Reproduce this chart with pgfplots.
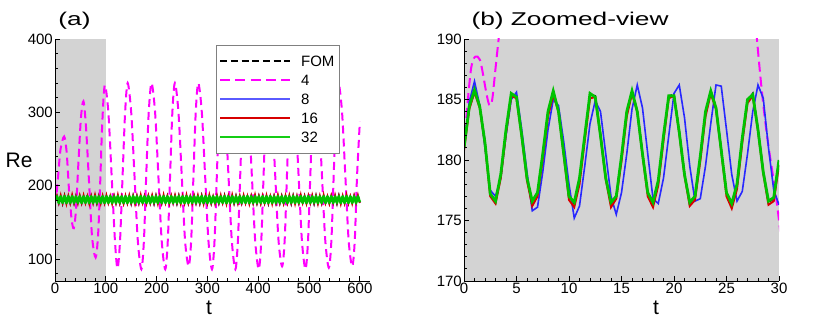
\documentclass[border=0pt]{standalone}
\usepackage{fontspec}
\setmainfont{Liberation Sans}
\newfontfamily\titlefont[FakeStretch=1.42]{Liberation Sans}
\usepackage{pgfplots}
\pgfplotsset{compat=1.18}
\usepackage{pgfplotstable}
\definecolor{bggray}{RGB}{211,211,211}
\definecolor{cblue}{RGB}{40,40,255}
\definecolor{cred}{RGB}{215,0,0}
\definecolor{cgreen}{RGB}{0,195,0}
\definecolor{cmag}{RGB}{255,0,255}
\definecolor{lgdgray}{RGB}{128,128,128}
\definecolor{lgblue}{RGB}{90,90,255}
\definecolor{lggreen}{RGB}{20,205,20}

\pgfplotstableread{
t v
0 181
0.7 187.7
1.5 188.3
2.5 184.5
3.3 190
7 220
11 250
18 267
23 245
27.9 190
30 175
33 152
37 142
41 165
46 230
51 292
56 315
61 280
67 205
73 130
80 102
85 135
89 205
93 285
98 337
105 300
111.5 213
118 125
123 87
128 125
133 213
138 300
143 340
150 300
156.5 213
163 125
170 86
175 125
179.5 213
184.5 300
190 340
197 300
203.5 213
210 125
217 86
222 125
226.5 213
231 300
236 340
243 300
249.5 213
256 125
263 90
268 125
272.5 213
277 300
282 340
289 300
295.5 213
302 125
309 86
314 125
318.5 213
323 300
328 340
335 300
341.5 213
348 125
355 86
360 125
364.5 213
369 300
374 340
381 300
387.5 213
394 125
401 86
406 125
410.5 213
415 300
420 340
427 300
433.5 213
440 125
447 90
452 125
456.5 213
461 300
466 340
473 300
479.5 213
486 125
493 86
498 125
502.5 213
507 300
512 340
519 300
525.5 213
532 125
539 88
544 125
548.5 213
553 300
558 340
565 300
571.5 213
578 125
585 90
590 125
594.5 213
600 287
}\magdata

\pgfplotstableread{
t fom b8 r16 g32
0 181.0 181.0 180.8 181.0
3.75 186.4 186.0 186.8 185.6
7.5 176.2 175.4 176.0 176.4
11.25 185.9 186.3 187.4 185.4
15 174.9 175.8 176.1 176.6
18.75 187.2 185.5 186.1 185.8
22.5 176.0 176.5 174.7 176.3
26.25 186.1 186.2 186.5 185.5
30 176.3 175.3 175.7 176.4
33.75 185.8 186.4 188.0 185.7
37.5 175.3 176.2 176.1 176.5
41.25 186.6 185.7 185.9 185.4
45 175.6 176.0 175.2 176.5
48.75 186.4 186.0 186.8 185.6
52.5 176.2 175.4 176.0 176.4
56.25 185.9 186.3 187.4 185.4
60 174.9 175.8 176.1 176.6
63.75 187.2 185.5 186.1 185.8
67.5 176.0 176.5 174.7 176.3
71.25 186.1 186.2 186.5 185.5
75 176.3 175.3 175.7 176.4
78.75 185.8 186.4 188.0 185.7
82.5 175.3 176.2 176.1 176.5
86.25 186.6 185.7 185.9 185.4
90 175.6 176.0 175.2 176.5
93.75 186.4 186.0 186.8 185.6
97.5 176.2 175.4 176.0 176.4
101.25 185.9 186.3 187.4 185.4
105 174.9 175.8 176.1 176.6
108.75 187.2 185.5 186.1 185.8
112.5 176.0 176.5 174.7 176.3
116.25 186.1 186.2 186.5 185.5
120 176.3 175.3 175.7 176.4
123.75 185.8 186.4 188.0 185.7
127.5 175.3 176.2 176.1 176.5
131.25 186.6 185.7 185.9 185.4
135 175.6 176.0 175.2 176.5
138.75 186.4 186.0 186.8 185.6
142.5 176.2 175.4 176.0 176.4
146.25 185.9 186.3 187.4 185.4
150 174.9 175.8 176.1 176.6
153.75 187.2 185.5 186.1 185.8
157.5 176.0 176.5 174.7 176.3
161.25 186.1 186.2 186.5 185.5
165 176.3 175.3 175.7 176.4
168.75 185.8 186.4 188.0 185.7
172.5 175.3 176.2 176.1 176.5
176.25 186.6 185.7 185.9 185.4
180 175.6 176.0 175.2 176.5
183.75 186.4 186.0 186.8 185.6
187.5 176.2 175.4 176.0 176.4
191.25 185.9 186.3 187.4 185.4
195 174.9 175.8 176.1 176.6
198.75 187.2 185.5 186.1 185.8
202.5 176.0 176.5 174.7 176.3
206.25 186.1 186.2 186.5 185.5
210 176.3 175.3 175.7 176.4
213.75 185.8 186.4 188.0 185.7
217.5 175.3 176.2 176.1 176.5
221.25 186.6 185.7 185.9 185.4
225 175.6 176.0 175.2 176.5
228.75 186.4 186.0 186.8 185.6
232.5 176.2 175.4 176.0 176.4
236.25 185.9 186.3 187.4 185.4
240 174.9 175.8 176.1 176.6
243.75 187.2 185.5 186.1 185.8
247.5 176.0 176.5 174.7 176.3
251.25 186.1 186.2 186.5 185.5
255 176.3 175.3 175.7 176.4
258.75 185.8 186.4 188.0 185.7
262.5 175.3 176.2 176.1 176.5
266.25 186.6 185.7 185.9 185.4
270 175.6 176.0 175.2 176.5
273.75 186.4 186.0 186.8 185.6
277.5 176.2 175.4 176.0 176.4
281.25 185.9 186.3 187.4 185.4
285 174.9 175.8 176.1 176.6
288.75 187.2 185.5 186.1 185.8
292.5 176.0 176.5 174.7 176.3
296.25 186.1 186.2 186.5 185.5
300 176.3 175.3 175.7 176.4
303.75 185.8 186.4 188.0 185.7
307.5 175.3 176.2 176.1 176.5
311.25 186.6 185.7 185.9 185.4
315 175.6 176.0 175.2 176.5
318.75 186.4 186.0 186.8 185.6
322.5 176.2 175.4 176.0 176.4
326.25 185.9 186.3 187.4 185.4
330 174.9 175.8 176.1 176.6
333.75 187.2 185.5 186.1 185.8
337.5 176.0 176.5 174.7 176.3
341.25 186.1 186.2 186.5 185.5
345 176.3 175.3 175.7 176.4
348.75 185.8 186.4 188.0 185.7
352.5 175.3 176.2 176.1 176.5
356.25 186.6 185.7 185.9 185.4
360 175.6 176.0 175.2 176.5
363.75 186.4 186.0 186.8 185.6
367.5 176.2 175.4 176.0 176.4
371.25 185.9 186.3 187.4 185.4
375 174.9 175.8 176.1 176.6
378.75 187.2 185.5 186.1 185.8
382.5 176.0 176.5 174.7 176.3
386.25 186.1 186.2 186.5 185.5
390 176.3 175.3 175.7 176.4
393.75 185.8 186.4 188.0 185.7
397.5 175.3 176.2 176.1 176.5
401.25 186.6 185.7 185.9 185.4
405 175.6 176.0 175.2 176.5
408.75 186.4 186.0 186.8 185.6
412.5 176.2 175.4 176.0 176.4
416.25 185.9 186.3 187.4 185.4
420 174.9 175.8 176.1 176.6
423.75 187.2 185.5 186.1 185.8
427.5 176.0 176.5 174.7 176.3
431.25 186.1 186.2 186.5 185.5
435 176.3 175.3 175.7 176.4
438.75 185.8 186.4 188.0 185.7
442.5 175.3 176.2 176.1 176.5
446.25 186.6 185.7 185.9 185.4
450 175.6 176.0 175.2 176.5
453.75 186.4 186.0 186.8 185.6
457.5 176.2 175.4 176.0 176.4
461.25 185.9 186.3 187.4 185.4
465 174.9 175.8 176.1 176.6
468.75 187.2 185.5 186.1 185.8
472.5 176.0 176.5 174.7 176.3
476.25 186.1 186.2 186.5 185.5
480 176.3 175.3 175.7 176.4
483.75 185.8 186.4 188.0 185.7
487.5 175.3 176.2 176.1 176.5
491.25 186.6 185.7 185.9 185.4
495 175.6 176.0 175.2 176.5
498.75 186.4 186.0 186.8 185.6
502.5 176.2 175.4 176.0 176.4
506.25 185.9 186.3 187.4 185.4
510 174.9 175.8 176.1 176.6
513.75 187.2 185.5 186.1 185.8
517.5 176.0 176.5 174.7 176.3
521.25 186.1 186.2 186.5 185.5
525 176.3 175.3 175.7 176.4
528.75 185.8 186.4 188.0 185.7
532.5 175.3 176.2 176.1 176.5
536.25 186.6 185.7 185.9 185.4
540 175.6 176.0 175.2 176.5
543.75 186.4 186.0 186.8 185.6
547.5 176.2 175.4 176.0 176.4
551.25 185.9 186.3 187.4 185.4
555 174.9 175.8 176.1 176.6
558.75 187.2 185.5 186.1 185.8
562.5 176.0 176.5 174.7 176.3
566.25 186.1 186.2 186.5 185.5
570 176.3 175.3 175.7 176.4
573.75 185.8 186.4 188.0 185.7
577.5 175.3 176.2 176.1 176.5
581.25 186.6 185.7 185.9 185.4
585 175.6 176.0 175.2 176.5
588.75 186.4 186.0 186.8 185.6
592.5 176.2 175.4 176.0 176.4
596.25 185.9 186.3 187.4 185.4
600 177.0 176.5 176.4 177.5
}\longdata

\pgfplotstableread{
t fom b8 r16 g32
0 181.0 181.0 180.8 181.0
0.5 184.3 184.8 184.2 184.4
1 185.8 186.5 185.6 185.8
1.5 184.5 184.5 184.3 184.4
2 181.5 181.0 181.3 181.4
2.5 177.3 177.5 177.0 177.2
3 176.5 177.0 176.4 176.6
3.5 178.7 178.5 178.5 178.8
4 182.4 182.0 182.2 182.5
4.5 185.4 185.0 185.3 185.5
5 185.3 185.6 185.1 185.2
5.5 182.1 182.5 181.9 182.0
6 178.5 179.0 178.3 178.5
6.5 176.5 175.8 176.2 176.6
7 177.2 176.1 177.0 177.3
7.5 180.4 179.0 180.1 180.5
8 183.9 182.5 183.6 184.0
8.5 185.7 185.0 185.4 185.7
9 184.1 184.5 184.0 184.0
9.5 180.6 181.5 180.4 180.5
10 177.0 178.0 176.7 177.0
10.5 176.4 175.2 176.1 176.5
11 178.4 176.2 178.0 178.5
11.5 181.9 179.5 181.6 182.0
12 185.4 183.0 185.1 185.5
12.5 185.3 184.9 185.2 185.2
13 182.1 184.0 182.0 182.0
13.5 178.6 180.5 178.4 178.5
14 176.4 177.0 176.1 176.5
14.5 177.0 175.5 176.8 177.0
15 180.2 177.3 179.9 180.3
15.5 183.9 180.5 183.6 184.0
16 185.7 184.2 185.5 185.7
16.5 184.1 186.2 184.0 184.0
17 180.6 184.3 180.4 180.5
17.5 177.3 180.5 177.0 177.3
18 176.4 176.8 176.1 176.5
18.5 178.2 176.4 177.9 178.3
19 181.9 178.5 181.6 182.0
19.5 185.3 182.0 185.1 185.3
20 185.4 185.5 185.3 185.3
20.5 182.4 186.2 182.2 182.3
21 178.9 183.5 178.7 178.8
21.5 176.4 179.5 176.2 176.5
22 176.9 176.6 176.7 177.0
22.5 180.2 176.8 179.9 180.3
23 183.9 179.5 183.6 184.0
23.5 185.7 183.0 185.5 185.7
24 184.4 186.2 184.2 184.3
24.5 180.9 186.1 180.7 180.8
25 177.3 182.5 177.0 177.3
25.5 176.3 178.8 176.0 176.4
26 177.9 176.6 177.6 178.0
26.5 181.7 177.4 181.4 181.8
27 184.9 180.5 184.7 185.0
27.5 185.5 184.0 185.3 185.4
28 182.6 186.2 182.4 182.5
28.5 179.1 185.1 178.9 179.0
29 176.5 181.0 176.3 176.6
29.5 176.8 177.5 176.6 176.9
30 179.9 176.3 179.6 180.0
}\zoomdata

\pgfplotsset{
  mystyle/.style={
    scale only axis, width=315pt, height=242pt,
    axis x line=bottom, axis y line=left,
    axis line style={-, line width=0.9pt},
    tick align=inside,
    major tick length=5pt, minor tick length=3pt,
    every tick/.style={black, line width=0.8pt},
    /pgf/number format/assume math mode=true,
    ticklabel style={font=\fontsize{15}{18}\selectfont},
    xticklabel style={inner sep=2pt},
    yticklabel style={inner sep=2pt},
    label style={font=\fontsize{21}{24}\selectfont},
    title style={font=\titlefont\fontsize{18.5}{22}\selectfont},
    axis on top,
  }
}

\begin{document}
\begin{tikzpicture}
\path[use as bounding box] (0pt,0pt) rectangle (830pt,318pt);
\begin{axis}[mystyle, at={(55pt,37pt)}, anchor=south west,
  xmin=0, xmax=620, ymin=70, ymax=400,
  xtick={0,100,...,600}, ytick={0,100,...,400},
  minor x tick num=4, minor y tick num=4,
  xlabel={t}, ylabel={Re},
  xlabel style={at={(axis description cs:0.489,-0.14)}, anchor=base},
  ylabel style={at={(axis description cs:-0.114,0.467)}, anchor=base, rotate=-90},
  title={(a)},
  title style={at={(axis description cs:0.062,1.029)}, anchor=base},
  legend style={at={(axis description cs:0.511,0.975)}, anchor=north west,
    draw=lgdgray, fill=white,
    font=\fontsize{15}{18}\selectfont,
    cells={anchor=west}, row sep=4.3pt, column sep=8pt,
    inner xsep=3pt, inner ysep=8.6pt,
    nodes={inner sep=2pt, text height=10.7pt, text depth=0pt}},
]
\addplot[fill=bggray, draw=none, forget plot] coordinates {(0,70) (0,400) (100,400) (100,70)} -- cycle;
\addplot[black, line width=1.4pt, dash pattern=on 7pt off 3.5pt,
  legend image code/.code={\draw[black, line width=1.6pt, dash pattern=on 7pt off 3.67pt] (0pt,0pt) -- (70pt,0pt);}]
  table[x=t, y=fom]{\longdata};
\addlegendentry{FOM}
\addplot[cmag, line width=2pt, dash pattern=on 8pt off 5pt, smooth,
  legend image code/.code={\draw[cmag, line width=2pt, dash pattern=on 10pt off 5.25pt] (0pt,0pt) -- (70pt,0pt);}]
  table[x=t, y=v]{\magdata};
\addlegendentry{4}
\addplot[cblue, line width=1.3pt,
  legend image code/.code={\draw[lgblue, line width=1.5pt] (0pt,0pt) -- (70pt,0pt);}]
  table[x=t, y=b8]{\longdata};
\addlegendentry{8}
\addplot[cred, line width=1.6pt,
  legend image code/.code={\draw[cred, line width=1.6pt] (0pt,0pt) -- (70pt,0pt);}]
  table[x=t, y=r16]{\longdata};
\addlegendentry{16}
\addplot[cgreen, line width=2.6pt, line join=round,
  legend image code/.code={\draw[lggreen, line width=1.5pt] (0pt,0pt) -- (70pt,0pt);}]
  table[x=t, y=g32]{\longdata};
\addlegendentry{32}
\end{axis}

\begin{axis}[mystyle, at={(464pt,37pt)}, anchor=south west,
  xmin=0, xmax=30, ymin=170, ymax=190,
  xtick={0,5,...,30}, ytick={170,175,...,190},
  minor x tick num=4, minor y tick num=4,
  axis background/.style={fill=bggray},
  xlabel={t},
  xlabel style={at={(axis description cs:0.61,-0.14)}, anchor=base},
  title={(b) Zoomed-view},
  title style={at={(axis description cs:0.0127,1.029)}, anchor=base west},
]
\addplot[black, line width=1.6pt, dash pattern=on 7pt off 3.5pt] table[x=t, y=fom]{\zoomdata};
\addplot[cmag, line width=2pt, dash pattern=on 10pt off 5pt, smooth] table[x=t, y=v]{\magdata};
\addplot[cblue, line width=1.6pt] table[x=t, y=b8]{\zoomdata};
\addplot[cred, line width=2pt] table[x=t, y=r16]{\zoomdata};
\addplot[cgreen, line width=2.8pt] table[x=t, y=g32]{\zoomdata};
\end{axis}
\end{tikzpicture}
\end{document}
